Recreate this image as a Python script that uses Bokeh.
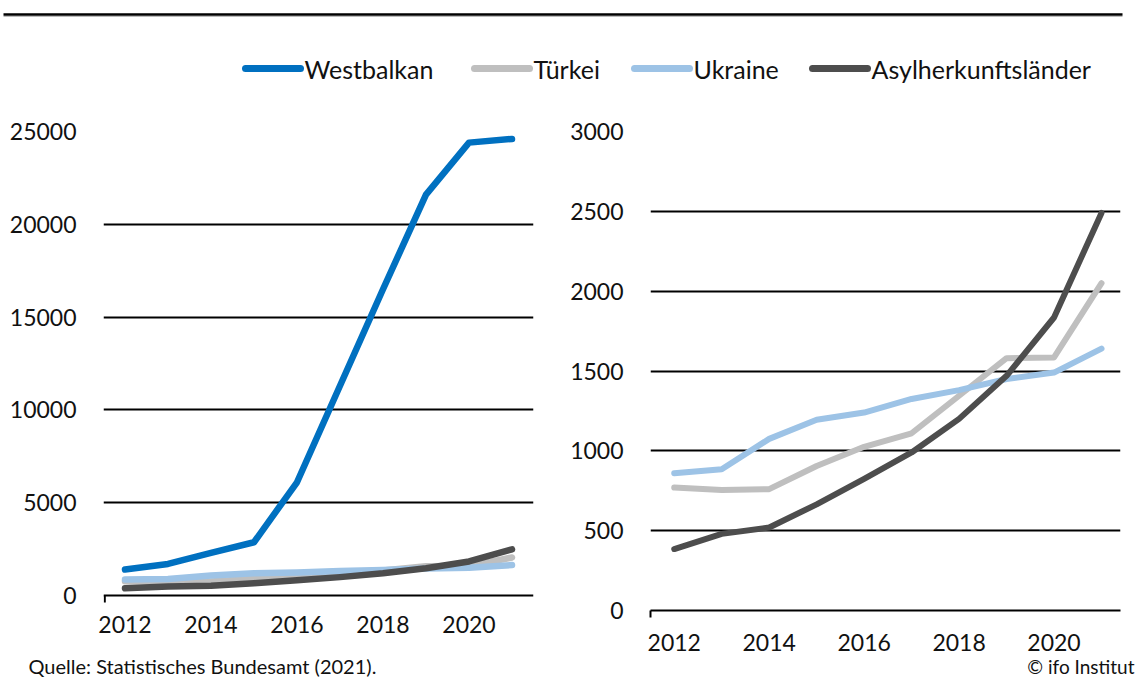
from bokeh.plotting import figure
from bokeh.layouts import column, row
from bokeh.models import Range1d, FixedTicker, ColumnDataSource
from bokeh.core.properties import value
from bokeh.embed import file_html
from bokeh.resources import INLINE

# ---------------- data ----------------
years = [2012, 2013, 2014, 2015, 2016, 2017, 2018, 2019, 2020, 2021]
westbalkan = [1400, 1700, 2300, 2870, 6100, 11300, 16500, 21600, 24400, 24600]
tuerkei = [770, 755, 760, 905, 1025, 1110, 1345, 1580, 1585, 2050]
ukraine = [860, 885, 1075, 1195, 1240, 1325, 1380, 1450, 1490, 1640]
asyl = [385, 480, 520, 665, 825, 990, 1200, 1470, 1835, 2490]

series_names = ["Westbalkan", "Türkei", "Ukraine", "Asylherkunftsländer"]
series_colors = ["#0070C0", "#BFBFBF", "#9DC3E6", "#4D4D4D"]
x_ticks = [2012, 2014, 2016, 2018, 2020]
left_y_ticks = [0, 5000, 10000, 15000, 20000, 25000]
right_y_ticks = [0, 500, 1000, 1500, 2000, 2500, 3000]
source_text = "Quelle: Statistisches Bundesamt (2021)."
credit_text = "© ifo Institut"

FONT = "Lato"
TICK_SIZE = "23px"
TOTAL_W = 1140

# ---------------- header (rule + legend) ----------------
HH = 100
header = figure(width=TOTAL_W, height=HH, x_range=Range1d(0, TOTAL_W), y_range=Range1d(HH, 0),
                output_backend="svg", toolbar_location=None, min_border=0)
header.axis.visible = False
header.grid.visible = False
header.outline_line_color = None
header.segment(x0=[3], y0=[14], x1=[1122], y1=[14], line_color="black", line_width=2.5)
header.segment(x0=[3], y0=[16], x1=[1122], y1=[16], line_color="#BBBBBB", line_width=1)

leg_x0 = [245, 474, 634, 812]
leg_len = 55
leg_src = ColumnDataSource(dict(
    x0=leg_x0, x1=[v + leg_len for v in leg_x0], y=[68] * 4,
    tx=[v + leg_len + 4 for v in leg_x0], label=series_names, color=series_colors))
header.segment(x0="x0", y0="y", x1="x1", y1="y", line_color="color", line_width=7,
               line_cap="round", source=leg_src)
header.text(x="tx", y="y", text="label", source=leg_src, text_font=value(FONT),
            text_font_size="25px", text_baseline="middle", text_color="#111111")


def style(p, yticks):
    p.outline_line_color = None
    p.xgrid.visible = False
    p.ygrid.ticker = FixedTicker(ticks=yticks)
    p.ygrid.grid_line_color = "black"
    p.ygrid.grid_line_width = 2
    p.yaxis.ticker = FixedTicker(ticks=yticks)
    p.yaxis.axis_line_color = None
    p.yaxis.major_tick_line_color = None
    p.yaxis.minor_tick_line_color = None
    p.yaxis.major_label_standoff = 21
    p.xaxis.major_tick_line_color = None
    p.xaxis.major_tick_out = 0
    p.xaxis.major_tick_in = 0
    for ax in (p.xaxis, p.yaxis):
        ax.major_label_text_font = FONT
        ax.major_label_text_font_size = TICK_SIZE
        ax.major_label_text_color = "#111111"


PH = 555          # plot row height
TOP_B, BOT_B = 31, 45

# ---------------- left chart ----------------
lx0, lx1 = 2011.5, 2021.5
left_top = 25000
left_bottom = -left_top * 15 / 464   # zero line sits a little above the frame bottom
left = figure(width=560, height=PH, x_range=Range1d(lx0, lx1), y_range=Range1d(left_bottom, left_top),
              output_backend="svg", toolbar_location=None,
              min_border_left=103, min_border_right=27, min_border_top=TOP_B, min_border_bottom=BOT_B)
style(left, left_y_ticks)
left.xaxis.ticker = FixedTicker(ticks=x_ticks)
left.xaxis.axis_line_color = None
left.xaxis.minor_tick_line_color = None
left.xaxis.major_label_standoff = 5
# small tick at the left end of the zero line
left.segment(x0=[lx0 + 0.03], y0=[0], x1=[lx0 + 0.03], y1=[left_bottom * 0.47],
             line_color="black", line_width=2)
for vals, col in zip([westbalkan, tuerkei, ukraine, asyl], series_colors):
    left.line(years, vals, line_color=col, line_width=6.5, line_cap="round", line_join="round")

# ---------------- right chart ----------------
rx0, rx1 = 2011.5, 2021.4
right = figure(width=TOTAL_W - 560, height=PH, x_range=Range1d(rx0, rx1), y_range=Range1d(0, 3000),
               output_backend="svg", toolbar_location=None,
               min_border_left=90, min_border_right=20, min_border_top=TOP_B, min_border_bottom=BOT_B)
style(right, right_y_ticks)
right.xaxis.ticker = FixedTicker(ticks=x_ticks, minor_ticks=[rx0])
right.xaxis.axis_line_color = "black"
right.xaxis.axis_line_width = 2
right.xaxis.minor_tick_line_color = "black"
right.xaxis.minor_tick_line_width = 2
right.xaxis.minor_tick_in = 0
right.xaxis.minor_tick_out = 7
right.xaxis.major_label_standoff = 16
for vals, col in zip([tuerkei, ukraine, asyl], series_colors[1:]):
    right.line(years, vals, line_color=col, line_width=6, line_cap="round", line_join="round")

# ---------------- footer ----------------
FH = 22
footer = figure(width=TOTAL_W, height=FH, x_range=Range1d(0, TOTAL_W), y_range=Range1d(FH, 0),
                output_backend="svg", toolbar_location=None, min_border=0)
footer.axis.visible = False
footer.grid.visible = False
footer.outline_line_color = None
footer.text(x=[28], y=[10], text=[source_text], text_font=value(FONT), text_font_size="20px",
            text_baseline="middle", text_color="#111111")
footer.text(x=[1134], y=[11], text=[credit_text], text_font=value(FONT), text_font_size="19px",
            text_baseline="middle", text_align="right", text_color="#111111")

layout = column(header, row(left, right), footer)
open("out.html", "w").write(file_html(layout, INLINE))
